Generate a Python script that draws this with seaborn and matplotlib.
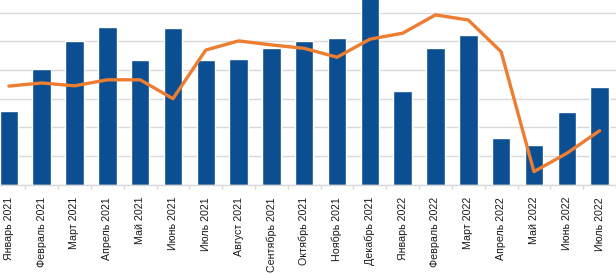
import numpy as np
import pandas as pd
import matplotlib
matplotlib.use("Agg")
import matplotlib.pyplot as plt
import seaborn as sns

months = ["Январь 2021", "Февраль 2021", "Март 2021", "Апрель 2021", "Май 2021",
          "Июнь 2021", "Июль 2021", "Август 2021", "Сентябрь 2021", "Октябрь 2021",
          "Ноябрь 2021", "Декабрь 2021", "Январь 2022", "Февраль 2022", "Март 2022",
          "Апрель 2022", "Май 2022", "Июнь 2022", "Июль 2022"]
bar_values = [2.58, 4.03, 5.03, 5.52, 4.34, 5.46, 4.34, 4.39, 4.78, 5.0,
              5.11, 6.8, 3.28, 4.78, 5.23, 1.62, 1.38, 2.52, 3.41]
line_values = [3.44, 3.55, 3.45, 3.66, 3.66, 3.0, 4.70, 5.02, 4.88, 4.76,
               4.45, 5.08, 5.29, 5.93, 5.75, 4.64, 0.45, 1.09, 1.88]

df = pd.DataFrame({"month": months, "bar": bar_values, "line": line_values})
df["pos"] = np.arange(len(df))

sns.set_theme(style="white")
plt.rcParams["font.family"] = ["Liberation Sans", "DejaVu Sans"]

fig = plt.figure(figsize=(6.16, 2.74), dpi=100)
ax = fig.add_axes([0, 1 - 184.5 / 274, 1, 184.5 / 274])

sns.barplot(data=df, x="month", y="bar", order=months, color="#0B4F92",
            saturation=1, width=0.56, ax=ax, zorder=2)
sns.lineplot(data=df, x="pos", y="line", color="#ED7D31", linewidth=2.4,
             ax=ax, zorder=3)

ax.set_xlim(-0.27, 18.3)
ax.set_ylim(0, 6.45)
ax.set_yticks(np.arange(0, 7, 1))
ax.yaxis.grid(True, color="#D9D9D9", linewidth=1)
ax.xaxis.grid(False)
ax.set_axisbelow(True)
ax.tick_params(axis="y", left=False, labelleft=False)
ax.set_xticks(np.arange(len(months)))
ax.set_xticklabels(months, rotation=90, fontsize=7.7, color="#1a1a1a")
ax.tick_params(axis="x", bottom=False, pad=3)
ax.set_xticks(np.arange(len(months)) + 0.5, minor=True)
ax.tick_params(axis="x", which="minor", bottom=True, length=3, color="#D9D9D9", width=1)
ax.set_xlabel("")
ax.set_ylabel("")
for s in ["top", "left", "right"]:
    ax.spines[s].set_visible(False)
ax.spines["bottom"].set_color("#D9D9D9")
ax.spines["bottom"].set_linewidth(1)

fig.savefig("out.png", dpi=100)
